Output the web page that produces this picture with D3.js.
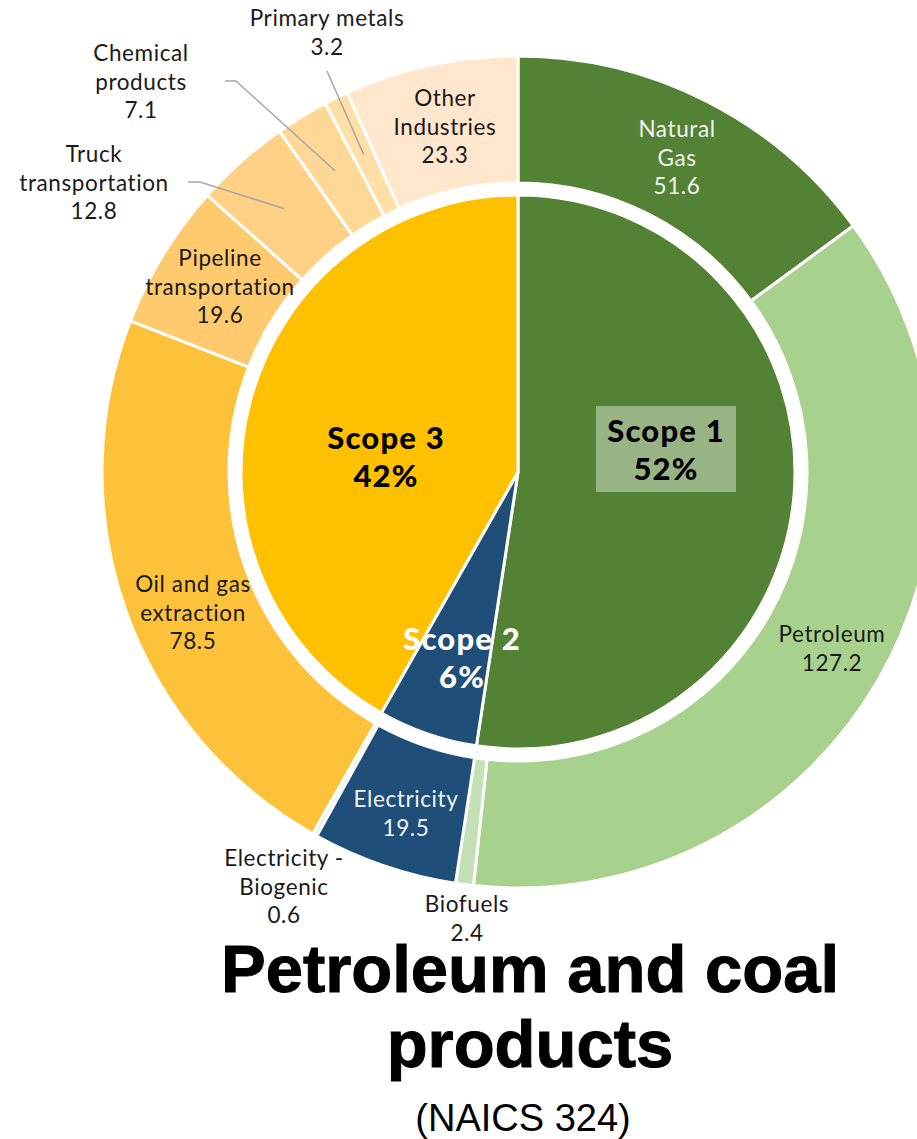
<!DOCTYPE html>
<html>
<head>
<meta charset="utf-8">
<script src="https://cdn.jsdelivr.net/npm/d3@7/dist/d3.min.js"></script>
<style>
  html, body { margin: 0; padding: 0; background: #ffffff; }
  svg { display: block; }
</style>
</head>
<body>
<svg id="chart" width="917" height="1139"></svg>
<script>
// ---- DATA ----
const scopeNames = ["Scope 1", "Scope 2", "Scope 3"];
const scopePercents = ["52%", "6%", "42%"];
const sourceNames = ["Natural Gas", "Petroleum", "Biofuels", "Electricity", "Electricity - Biogenic",
  "Oil and gas extraction", "Pipeline transportation", "Truck transportation",
  "Chemical products", "Primary metals", "Other Industries"];
const sourceValues = [51.6, 127.2, 2.4, 19.5, 0.6, 78.5, 19.6, 12.8, 7.1, 3.2, 23.3];
const sourceScope = [0, 0, 0, 1, 1, 2, 2, 2, 2, 2, 2];
const titleLines = ["Petroleum and coal", "products"];
const subtitle = "(NAICS 324)";

// ---- STYLE / LAYOUT ----
const scopeColors = ["#548235", "#1F4E79", "#FFC000"];
const sourceColors = ["#548235", "#A9D18E", "#C5E0B4", "#1F4E79", "#DEEBF7",
  "#FEC23A", "#FFC96D", "#FFD187", "#FFD895", "#FFDFA6", "#FFE6CC"];
const cx = 518, cy = 472;
const rPie = 277, rIn = 289, rOut = 416;

const labelLayout = {
  "Natural Gas": {x: 677, y: 137, lines: ["Natural", "Gas"], color: "#F2F2F2"},
  "Petroleum": {x: 832, y: 642, lines: ["Petroleum"], color: "#1a1a1a"},
  "Biofuels": {x: 467, y: 912, lines: ["Biofuels"], color: "#1a1a1a"},
  "Electricity": {x: 406, y: 807, lines: ["Electricity"], color: "#F2F2F2"},
  "Electricity - Biogenic": {x: 284, y: 866, lines: ["Electricity -", "Biogenic"], color: "#1a1a1a"},
  "Oil and gas extraction": {x: 193, y: 592, lines: ["Oil and gas", "extraction"], color: "#1a1a1a"},
  "Pipeline transportation": {x: 220, y: 266, lines: ["Pipeline", "transportation"], color: "#1a1a1a"},
  "Truck transportation": {x: 94, y: 162, lines: ["Truck", "transportation"], color: "#1a1a1a", leader: [[188, 182], [200, 182]]},
  "Chemical products": {x: 141, y: 61, lines: ["Chemical", "products"], color: "#1a1a1a", leader: [[225, 81], [236, 81]]},
  "Primary metals": {x: 327, y: 26, lines: ["Primary metals"], color: "#1a1a1a", leader: [[327, 71]]},
  "Other Industries": {x: 445, y: 106, lines: ["Other", "Industries"], color: "#1a1a1a"}
};
const scopeLayout = [
  {x: 666, y: 442, color: "#000000", box: true},
  {x: 462, y: 650, color: "#FFFFFF"},
  {x: 386, y: 449, color: "#000000"}
];

const svg = d3.select("#chart");
const g = svg.append("g").attr("transform", `translate(${cx},${cy})`);

const scopeTotals = scopeNames.map((s, i) => d3.sum(sourceValues.filter((v, j) => sourceScope[j] === i)));

const pie = d3.pie().sort(null).value(d => d.value).startAngle(0).endAngle(2 * Math.PI);

const innerData = pie(scopeNames.map((n, i) => ({name: n, value: scopeTotals[i], i})));
const outerData = pie(sourceNames.map((n, i) => ({name: n, value: sourceValues[i], i})));

const arcInner = d3.arc().innerRadius(0).outerRadius(rPie);
const arcOuter = d3.arc().innerRadius(rIn).outerRadius(rOut);

g.selectAll("path.outer").data(outerData).join("path")
  .attr("class", "outer")
  .attr("d", arcOuter)
  .attr("fill", d => sourceColors[d.data.i])
  .attr("stroke", "#ffffff").attr("stroke-width", 3).attr("stroke-linejoin", "miter");

g.selectAll("path.inner").data(innerData).join("path")
  .attr("class", "inner")
  .attr("d", arcInner)
  .attr("fill", d => scopeColors[d.data.i])
  .attr("stroke", "#ffffff").attr("stroke-width", 3).attr("stroke-linejoin", "miter");

// leader lines
outerData.forEach(d => {
  const L = labelLayout[d.data.name];
  if (!L || !L.leader) return;
  const c = arcOuter.centroid(d);
  const pts = L.leader.map(p => [p[0] - cx, p[1] - cy]).concat([c]);
  g.append("path")
    .attr("d", d3.line()(pts))
    .attr("fill", "none").attr("stroke", "#A6A6A6").attr("stroke-width", 1.5);
});

// source labels
const labelFont = "Lato, 'Noto Sans', sans-serif";
outerData.forEach(d => {
  const L = labelLayout[d.data.name];
  const lines = L.lines.concat([d3.format(".1f")(d.data.value)]);
  const t = svg.append("text")
    .attr("text-anchor", "middle")
    .attr("font-family", labelFont)
    .attr("font-size", 22.5)
    .attr("letter-spacing", 0.6)
    .attr("fill", L.color);
  lines.forEach((ln, k) => {
    t.append("tspan").attr("x", L.x).attr("y", L.y + k * 28.7).text(ln);
  });
});

// scope labels
innerData.forEach(d => {
  const S = scopeLayout[d.data.i];
  if (S.box) {
    svg.append("rect").attr("x", 596).attr("y", 406).attr("width", 140).attr("height", 86)
      .attr("fill", "#98B485");
  }
  const t = svg.append("text")
    .attr("text-anchor", "middle")
    .attr("font-family", labelFont)
    .attr("font-weight", 900)
    .attr("font-size", 31)
    .attr("letter-spacing", 1.2)
    .attr("fill", S.color);
  t.append("tspan").attr("x", S.x).attr("y", S.y).text(d.data.name);
  t.append("tspan").attr("x", S.x).attr("y", S.y + 38).text(scopePercents[d.data.i]);
});

// title
const title = svg.append("text")
  .attr("text-anchor", "middle")
  .attr("font-family", "'Liberation Sans Narrow', 'Arial Narrow', 'Liberation Sans', sans-serif")
  .attr("font-weight", 700)
  .attr("font-size", 67)
  .attr("fill", "#000")
  .attr("stroke", "#000").attr("stroke-width", 1);
titleLines.forEach((ln, k) => {
  title.append("tspan").attr("x", 530).attr("y", 992 + k * 75).text(ln);
});
svg.append("text")
  .attr("x", 523).attr("y", 1131)
  .attr("text-anchor", "middle")
  .attr("font-family", "'Liberation Sans Narrow', 'Arial Narrow', 'Liberation Sans', sans-serif")
  .attr("font-size", 38)
  .attr("fill", "#000")
  .text(subtitle);
</script>
</body>
</html>
